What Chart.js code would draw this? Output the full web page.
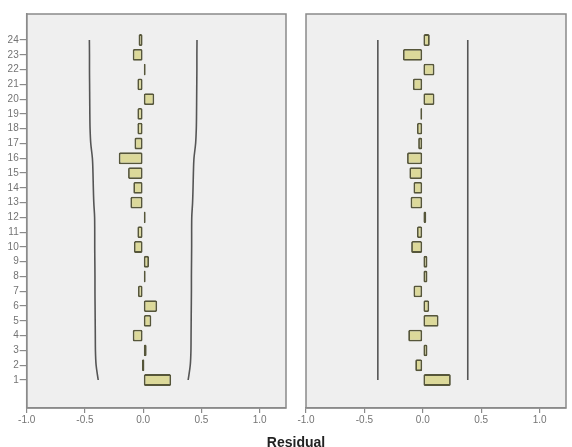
<!DOCTYPE html>
<html>
<head>
<meta charset="utf-8">
<script src="https://cdn.jsdelivr.net/npm/chart.js@4/dist/chart.umd.min.js"></script>
<style>
  body { margin: 0; background: #fff; }
  #wrap { position: relative; width: 572px; height: 447px; overflow: hidden; }
  #left { position: absolute; left: 0; top: 0; }
  #right { position: absolute; left: 290px; top: 0; }
  #xtitle { position: absolute; left: 246px; width: 100px; top: 435px; text-align: center;
    font: bold 14px "Liberation Sans", Arial, sans-serif; color: #222; line-height: 14px; }
</style>
</head>
<body>
<div id="wrap">
  <canvas id="left" width="290" height="447"></canvas>
  <canvas id="right" width="282" height="447"></canvas>
  <div id="xtitle">Residual</div>
</div>
<script>
// lags 1..24 (1 at bottom)
const LAGS = [1, 2, 3, 4, 5, 6, 7, 8, 9, 10, 11, 12, 13, 14, 15, 16, 17, 18, 19, 20, 21, 22, 23, 24];
const X_TICKS = [-1.0, -0.5, 0.0, 0.5, 1.0];

// left panel: residual ACF and its confidence limits
const ACF = [0.24, 0.0, 0.03, -0.09, 0.07, 0.12, -0.045, 0.01, 0.05, -0.08, -0.05, 0.005,
             -0.11, -0.085, -0.13, -0.21, -0.075, -0.05, -0.05, 0.095, -0.05, 0.01, -0.09, -0.04];
const ACF_UPPER = [0.386, 0.404, 0.41, 0.411, 0.412, 0.413, 0.414, 0.414, 0.415, 0.416, 0.416, 0.417,
                   0.424, 0.428, 0.431, 0.436, 0.45, 0.456, 0.458, 0.459, 0.46, 0.461, 0.461, 0.462];
const ACF_LOWER = [-0.386, -0.404, -0.41, -0.411, -0.412, -0.413, -0.414, -0.414, -0.415, -0.416, -0.416, -0.417,
                   -0.424, -0.428, -0.431, -0.436, -0.45, -0.456, -0.458, -0.459, -0.46, -0.461, -0.461, -0.462];

// right panel: residual PACF and its confidence limits
const PACF = [0.24, -0.065, 0.04, -0.125, 0.135, 0.055, -0.08, 0.04, 0.04, -0.10, -0.05, 0.03,
              -0.105, -0.08, -0.115, -0.135, -0.04, -0.05, -0.01, 0.10, -0.085, 0.10, -0.17, 0.06];
const PACF_UPPER = [0.385, 0.385, 0.385, 0.385, 0.385, 0.385, 0.385, 0.385, 0.385, 0.385, 0.385, 0.385,
                    0.385, 0.385, 0.385, 0.385, 0.385, 0.385, 0.385, 0.385, 0.385, 0.385, 0.385, 0.385];
const PACF_LOWER = [-0.385, -0.385, -0.385, -0.385, -0.385, -0.385, -0.385, -0.385, -0.385, -0.385, -0.385, -0.385,
                    -0.385, -0.385, -0.385, -0.385, -0.385, -0.385, -0.385, -0.385, -0.385, -0.385, -0.385, -0.385];

const FONT = { family: '"Liberation Sans", Arial, sans-serif', size: 10 };
const TICK_COLOR = '#747474';
const FRAME = '#8a8a8a';

// gray plot background + frame around the chart area
const panelPlugin = {
  id: 'panel',
  beforeDraw(chart) {
    const { ctx, chartArea: a } = chart;
    ctx.save();
    ctx.fillStyle = '#efefef';
    ctx.fillRect(a.left, a.top, a.right - a.left, a.bottom - a.top);
    ctx.restore();
  },
  afterDraw(chart) {
    const { ctx, chartArea: a } = chart;
    ctx.save();
    ctx.strokeStyle = FRAME;
    ctx.lineWidth = 1.5;
    ctx.strokeRect(a.left, a.top, a.right - a.left, a.bottom - a.top);
    ctx.restore();
  }
};

function makeChart(id, values, upper, lower, showLags, smooth, yWidth, padRight) {
  const pts = (arr) => LAGS.map((lag, i) => ({ x: arr[i], y: lag }));
  const boundStyle = {
    type: 'line',
    borderColor: '#555',
    borderWidth: 1.6,
    pointRadius: 0,
    fill: false,
    cubicInterpolationMode: smooth ? 'monotone' : 'default',
    order: 0
  };
  return new Chart(document.getElementById(id), {
    type: 'bar',
    data: {
      datasets: [
        {
          data: pts(values),
          backgroundColor: '#dcd99a',
          borderColor: '#56563a',
          borderWidth: 1.8,
          borderRadius: 1.5,
          borderSkipped: false,
          barPercentage: 0.8,
          categoryPercentage: 1,
          minBarLength: 2.5,
          order: 1
        },
        Object.assign({ data: pts(upper) }, boundStyle),
        Object.assign({ data: pts(lower) }, boundStyle)
      ]
    },
    options: {
      indexAxis: 'y',
      responsive: false,
      animation: false,
      layout: { padding: { top: 14, right: padRight, left: 0, bottom: 0 } },
      plugins: { legend: { display: false }, tooltip: { enabled: false } },
      scales: {
        x: {
          type: 'linear',
          min: -1,
          max: 1.226,
          afterBuildTicks: (s) => { s.ticks = X_TICKS.map(v => ({ value: v })); },
          afterFit: (s) => { s.height = 39; },
          ticks: {
            font: FONT,
            color: TICK_COLOR,
            padding: 1,
            maxRotation: 0,
            callback: (v) => Number(v).toFixed(1)
          },
          grid: { drawOnChartArea: false, drawTicks: true, tickLength: 5, color: FRAME, lineWidth: 1.2 },
          border: { display: true, color: FRAME, width: 1.5 }
        },
        y: {
          type: 'linear',
          min: -0.894,
          max: 25.76,
          offset: false,
          display: showLags,
          afterBuildTicks: (s) => { s.ticks = LAGS.map(v => ({ value: v })); },
          afterFit: (s) => { s.width = yWidth; },
          ticks: {
            font: FONT,
            color: TICK_COLOR,
            padding: 1,
            autoSkip: false,
            callback: (v) => String(v)
          },
          grid: { offset: false, drawOnChartArea: false, drawTicks: true, tickLength: 7, color: FRAME, lineWidth: 1.2 },
          border: { display: true, color: FRAME, width: 1.5 }
        }
      }
    },
    plugins: [panelPlugin]
  });
}

makeChart('left', ACF, ACF_UPPER, ACF_LOWER, true, true, 26.7, 4);
makeChart('right', PACF, PACF_UPPER, PACF_LOWER, false, false, 16, 6);
</script>
</body>
</html>
